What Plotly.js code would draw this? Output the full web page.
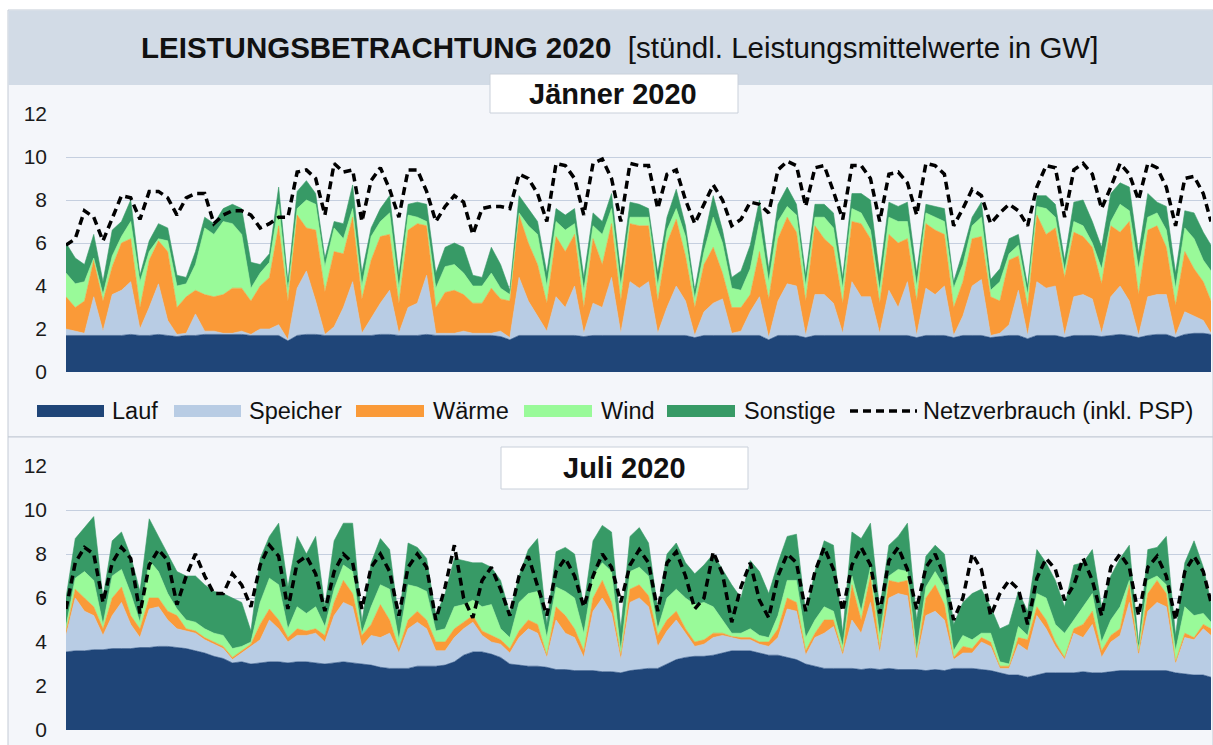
<!DOCTYPE html>
<html>
<head>
<meta charset="utf-8">
<script src="https://cdn.plot.ly/plotly-3.0.1.min.js"></script>
<style>html,body{margin:0;padding:0;background:#fff;}#chart{width:1213px;height:745px;}</style>
</head>
<body>
<div id="chart"></div>
<script>
// ---- Data: 6-hourly samples (00, 06, 12, 18 h of each day) + last hour, values in GW ----
// Jänner 2020
const janLauf = [
1.7,1.7,1.7,1.7, 1.7,1.7,1.7,1.75, 1.7,1.7,1.75,1.7, 1.65,1.7,1.7,1.75, 1.75,1.75,1.75,1.75, 1.7,1.7,1.7,1.7, 1.45,1.7,1.75,1.75, 1.7,1.7,1.7,1.7,
1.7,1.7,1.75,1.75, 1.7,1.7,1.7,1.75, 1.7,1.7,1.7,1.7, 1.7,1.7,1.7,1.65, 1.5,1.7,1.7,1.7, 1.7,1.7,1.7,1.7, 1.65,1.7,1.7,1.7, 1.7,1.7,1.7,1.7,
1.7,1.7,1.7,1.7, 1.6,1.7,1.7,1.7, 1.7,1.7,1.7,1.7, 1.5,1.7,1.7,1.7, 1.6,1.7,1.7,1.7, 1.7,1.7,1.7,1.7, 1.7,1.7,1.7,1.7, 1.6,1.7,1.7,1.7,
1.6,1.7,1.7,1.7, 1.6,1.65,1.7,1.7, 1.55,1.7,1.7,1.7, 1.6,1.7,1.7,1.7, 1.65,1.7,1.75,1.7, 1.6,1.7,1.75,1.75, 1.6,1.75,1.8,1.8, 1.75];
const janSpeicher = [
0.3,0.2,0.1,1.8, 0.2,1.9,2.1,2.45, 0.3,1.3,2.35,0.7, 0.1,0.1,1.0,0.15, 0.15,0.05,0.05,0.15, 0.05,0.3,0.3,0.5, 0.05,2.2,2.95,1.55, 0.05,0.4,1.3,2.5,
0.1,0.8,1.45,2.05, 0.1,1.3,1.5,2.75, 0.1,0.1,0.1,0.2, 0.1,0.1,0.1,0.25, 0.1,2.7,1.6,0.9, 0.2,1.8,1.3,2.3, 0.15,1.5,1.3,2.7, 0.1,2.5,2.2,2.5,
0.1,1.3,2.3,1.6, 0.1,1.1,1.5,1.7, 0.1,0.2,1.1,1.8, 0.1,1.6,2.4,2.3, 0.1,1.9,1.9,1.5, 0.1,2.5,1.8,1.8, 0.1,2.1,1.3,2.5, 0.1,2.2,1.9,2.3,
0.1,0.9,2.3,2.6, 0.1,0.15,0.5,2.1, 0.15,2.5,2.2,2.3, 0.1,1.8,1.9,1.7, 0.15,1.8,2.25,1.6, 0.1,1.8,1.85,1.85, 0.1,1.05,0.8,0.6, 0.05];
const janWaerme = [
1.5,1.1,1.5,1.7, 1.4,1.3,2.2,2.0, 1.0,2.2,2.0,3.2, 1.25,1.7,1.1,1.7, 1.6,1.8,2.1,2.0, 1.55,2.0,2.4,4.6, 1.8,3.4,2.0,3.3, 2.0,3.5,2.5,3.0,
1.6,2.7,3.1,2.6, 1.4,3.6,3.7,2.3, 1.2,1.9,2.0,1.7, 1.4,1.4,2.1,1.5, 1.7,2.9,2.7,2.4, 1.3,2.8,2.6,2.4, 1.2,3.0,2.0,2.5, 1.5,2.7,2.9,2.6,
1.5,3.0,3.1,2.1, 1.3,2.2,2.6,1.2, 1.2,1.1,0.8,2.1, 1.8,2.9,3.1,2.5, 1.6,3.2,2.6,2.6, 1.4,2.8,3.4,2.7, 1.4,2.6,3.0,2.0, 1.6,3.0,3.0,2.4,
1.3,1.6,2.2,2.0, 1.8,1.5,3.0,1.6, 1.3,3.1,2.5,2.7, 2.7,3.0,2.7,2.4, 2.3,3.3,2.5,3.7, 1.9,3.1,3.2,2.2, 1.4,2.8,2.2,1.8, 1.5];
const janWind = [
1.1,1.1,0.9,0.1, 0.3,0.5,0.3,0.8, 1.2,0.4,0.1,0.5, 1.0,0.6,1.2,3.1, 2.9,3.4,3.0,2.5, 0.6,0.6,0.7,1.0, 0.5,0.3,1.3,1.2, 1.15,1.1,0.7,0.4,
0.6,1.1,0.7,1.0, 0.7,0.7,0.3,0.2, 0.9,1.2,1.2,1.0, 0.8,0.8,0.7,0.5, 0.3,0.1,0.8,1.4, 0.8,0.7,1.0,0.5, 0.8,0.6,1.4,0.7, 0.7,0.3,0.4,0.4,
0.7,0.6,0.5,0.9, 0.4,0.6,1.4,1.4, 0.9,0.8,1.2,1.4, 0.8,0.8,0.5,0.8, 0.7,0.4,1.0,0.9, 0.7,0.6,0.5,0.4, 0.6,0.8,1.0,0.8, 0.7,0.5,0.6,0.6,
0.9,0.8,0.6,0.9, 0.3,0.9,0.3,0.5, 0.6,0.4,1.2,0.5, 0.3,0.5,0.5,0.2, 0.7,0.2,1.3,0.5, 1.2,0.6,0.6,0.8, 0.8,1.1,1.4,1.0, 1.4];
const janSonstige = [
1.4,1.2,0.8,1.1, 0.6,1.2,0.7,1.0, 0.3,0.5,0.7,0.6, 0.5,0.3,0.6,0.5, 0.5,0.6,0.9,1.2, 1.2,0.4,0.4,0.8, 0.4,0.8,0.9,0.5, 0.4,0.3,0.7,1.1,
0.6,0.4,0.6,0.8, 0.6,0.5,0.7,0.8, 0.7,0.9,1.0,1.2, 0.5,0.4,1.2,1.1, 0.2,0.8,0.8,0.6, 0.6,0.6,0.7,0.7, 0.6,0.6,0.6,0.7, 0.6,0.7,0.6,0.4,
0.6,0.6,0.9,0.5, 0.4,0.6,1.0,0.6, 0.5,0.9,1.1,1.0, 0.6,0.8,0.9,0.5, 0.5,0.6,0.6,0.7, 0.5,0.7,0.9,1.4, 0.7,0.7,0.7,0.9, 0.6,0.4,0.5,0.6,
0.3,0.6,0.4,0.7, 0.5,0.6,0.7,0.5, 0.4,0.5,0.6,0.6, 0.5,0.9,1.2,1.0, 1.0,1.3,1.0,1.1, 0.7,1.1,0.5,1.1, 0.7,0.8,1.2,1.3, 1.2];
const janNetz = [
5.9,6.2,7.5,7.2, 6.1,7.2,8.2,8.1, 7.1,8.4,8.4,8.1, 7.3,8.1,8.3,8.3, 6.9,7.3,7.5,7.5, 7.3,6.7,6.9,7.2, 7.2,9.3,9.4,9.0, 7.3,9.7,9.3,9.4,
7.0,8.9,9.5,8.5, 7.2,9.4,9.4,8.4, 7.0,7.7,8.2,7.9, 6.4,7.6,7.7,7.7, 7.6,9.2,9.0,8.3, 7.0,9.7,9.6,9.0, 7.3,9.7,9.9,9.0, 7.0,9.7,9.6,9.6,
7.6,9.2,9.4,8.0, 6.9,7.8,8.7,8.0, 6.8,7.1,7.9,7.8, 7.4,9.4,9.8,9.6, 7.7,9.5,9.6,8.4, 7.1,9.6,9.6,9.0, 7.0,9.2,9.3,8.8, 7.3,9.7,9.6,9.2,
6.8,7.6,8.5,8.2, 6.9,7.4,7.8,7.5, 6.8,8.6,9.6,9.5, 7.2,9.4,9.7,9.2, 7.6,8.6,9.7,9.2, 8.0,9.7,9.5,8.6, 6.8,9.0,9.1,8.3, 7.0];

// Juli 2020
const julLauf = [
3.55,3.6,3.6,3.65, 3.65,3.7,3.7,3.7, 3.75,3.75,3.8,3.8, 3.75,3.7,3.6,3.5, 3.35,3.25,3.05,3.1, 3.0,3.05,3.1,3.1, 3.05,3.1,3.1,3.05, 3.0,3.05,3.1,3.05,
3.0,2.95,2.85,2.8, 2.8,2.8,2.9,2.9, 2.9,2.95,3.1,3.4, 3.55,3.55,3.45,3.3, 3.0,2.95,2.9,2.9, 2.85,2.75,2.75,2.7, 2.7,2.7,2.65,2.65, 2.6,2.7,2.75,2.8,
2.8,3.0,3.2,3.3, 3.35,3.35,3.4,3.5, 3.6,3.6,3.6,3.5, 3.4,3.4,3.3,3.2, 3.0,2.9,2.8,2.8, 2.8,2.8,2.75,2.8, 2.75,2.8,2.75,2.75, 2.75,2.7,2.75,2.7,
2.8,2.8,2.8,2.75, 2.7,2.6,2.5,2.5, 2.4,2.5,2.6,2.6, 2.6,2.6,2.65,2.6, 2.6,2.65,2.7,2.7, 2.7,2.7,2.7,2.7, 2.6,2.55,2.5,2.5, 2.4];
const julSpeicher = [
0.75,2.4,1.8,1.55, 0.65,1.5,2.1,1.1, 0.45,1.75,1.8,1.2, 0.85,0.8,0.8,0.6, 0.55,0.45,0.15,0.4, 0.8,1.05,1.9,1.5, 0.95,1.2,1.2,1.35, 1.0,2.15,2.7,2.55,
0.8,1.35,1.35,1.6, 0.7,1.8,2.0,1.7, 0.7,0.65,1.1,1.2, 1.35,0.75,0.55,0.6, 0.5,1.25,1.7,1.5, 0.45,2.25,1.65,1.5, 0.6,2.7,3.35,2.65, 0.6,3.1,3.25,2.8,
1.0,1.5,1.8,1.1, 0.45,0.55,0.8,0.8, 0.6,0.5,0.5,0.4, 0.4,0.8,2.2,2.2, 0.4,1.3,1.6,1.9, 0.6,2.2,1.65,3.0, 0.75,3.2,3.45,3.35, 0.45,2.5,2.65,2.3,
0.4,0.7,0.7,1.25, 1.1,0.2,0.3,1.4, 1.2,2.7,2.0,1.2, 0.6,1.8,1.55,2.2, 0.7,1.35,1.6,3.1, 0.7,2.7,3.1,2.9, 0.4,1.65,1.6,2.1, 1.9];
const julWaerme = [
0.2,0.4,0.6,0.4, 0.3,0.8,0.7,0.4, 0.4,0.5,0.4,0.4, 0.6,0.1,0.1,0.1, 0.1,0.1,0.1,0.1, 0.1,0.7,0.5,0.4, 0.2,0.3,0.2,0.2, 0.3,0.6,1.0,0.6,
0.5,0.5,1.5,0.6, 0.2,0.4,0.5,0.4, 0.4,0.4,0.4,0.3, 0.3,0.2,0.3,0.2, 0.2,0.3,0.4,0.4, 0.1,0.6,0.8,0.4, 0.3,0.6,0.8,0.5, 0.2,0.6,0.6,0.5,
0.5,0.5,0.4,0.2, 0.2,0.2,0.2,0.1, 0.05,0.1,0.1,0.1, 0.2,0.4,0.5,0.4, 0.2,0.2,0.6,0.3, 0.1,1.6,0.6,1.2, 0.2,0.8,0.5,0.7, 0.1,0.8,1.2,0.7,
0.1,0.3,0.2,0.2, 0.2,0.1,0.1,0.3, 0.5,0.4,0.4,0.2, 0.1,0.2,0.6,0.6, 0.3,0.3,0.3,0.8, 0.1,0.8,1.0,0.6, 0.1,0.2,0.1,0.2, 0.3];
const julWind = [
0.2,0.5,1.2,1.2, 0.2,1.0,0.8,1.0, 0.3,1.7,1.2,0.8, 0.3,0.4,0.4,0.4, 0.4,0.5,0.4,0.2, 0.1,1.0,1.4,1.6, 0.4,1.0,0.8,1.0, 0.4,0.6,0.7,1.0,
0.1,0.8,0.9,1.4, 0.4,1.6,1.1,1.3, 0.5,0.6,1.0,0.8, 0.7,1.1,1.4,0.5, 0.5,1.3,1.2,1.5, 0.8,0.9,1.1,1.4, 0.8,1.0,0.8,1.4, 0.2,0.8,0.8,0.9,
0.3,1.0,1.0,1.4, 1.7,1.7,1.2,0.6, 0.15,0.2,0.4,0.3, 0.2,0.6,0.8,1.0, 0.6,0.6,0.6,0.4, 0.3,0.4,0.4,0.4, 0.6,0.2,0.6,0.4, 0.3,0.5,0.6,0.8,
0.3,0.5,0.4,0.2, 0.4,0.2,0.1,0.5, 0.2,0.6,1.0,0.8, 1.1,0.4,0.8,0.8, 0.4,0.7,1.0,0.2, 0.2,0.6,0.2,0.4, 0.5,1.2,1.0,0.5, 0.3];
const julSonstige = [
1.3,1.8,2.0,2.9, 1.2,1.6,1.7,1.7, 1.4,1.9,1.6,1.8, 1.7,2.0,2.1,2.0, 1.9,1.9,2.3,2.0, 0.5,2.0,1.9,2.8, 1.9,3.2,2.7,3.2, 0.9,2.2,1.9,2.2,
0.5,2.0,2.1,1.8, 0.9,1.9,1.8,1.5, 0.7,1.6,2.2,2.0, 1.7,2.0,1.7,2.2, 1.1,1.2,2.0,2.4, 0.6,1.6,2.0,2.0, 1.2,1.6,1.7,1.8, 1.0,1.6,1.8,1.5,
0.9,2.0,2.1,1.6, 1.4,1.7,2.4,2.3, 2.2,1.6,3.1,2.9, 2.0,2.4,2.0,2.1, 1.1,2.2,3.0,3.0, 0.6,2.0,3.3,2.0, 1.2,1.4,1.5,2.2, 1.4,1.4,1.2,1.5,
1.2,1.5,2.1,2.0, 1.2,1.5,1.8,1.6, 1.1,2.0,1.6,2.0, 1.2,2.5,2.0,2.0, 1.6,2.0,2.2,1.6, 0.2,1.4,1.3,2.2, 0.7,2.0,3.4,2.1, 0.9];
const julNetz = [
5.5,7.6,8.3,8.0, 5.8,7.6,8.3,7.8, 5.3,7.5,8.2,7.7, 5.7,7.0,8.0,7.0, 6.2,6.2,7.1,6.6, 5.6,7.5,8.4,7.9, 5.5,7.6,7.9,7.1, 5.4,7.2,8.0,7.6,
5.5,7.4,8.0,7.2, 5.2,7.4,8.0,7.4, 5.0,6.5,8.4,6.0, 5.1,6.8,7.4,6.4, 5.2,7.0,7.9,6.6, 5.2,7.2,7.8,7.0, 5.6,7.0,8.0,7.4, 5.8,7.5,8.2,7.6,
5.4,7.6,8.1,7.0, 5.5,6.0,8.1,7.1, 4.9,6.5,7.6,5.9, 5.1,7.0,8.0,7.6, 5.4,7.2,8.3,7.3, 5.4,7.5,8.3,7.5, 5.3,7.7,8.3,7.3, 5.5,7.4,8.0,7.0,
5.0,6.0,8.0,7.3, 5.2,6.2,6.8,6.4, 4.8,6.9,7.8,7.3, 5.9,6.6,7.8,6.8, 5.2,7.4,8.0,7.4, 5.2,7.4,7.9,7.0, 5.0,7.2,7.9,7.2, 5.8];

const seriesNames = ['Lauf', 'Speicher', 'Wärme', 'Wind', 'Sonstige'];
const lineName = 'Netzverbrauch (inkl. PSP)';
const tickValues = [0, 2, 4, 6, 8, 10, 12];

// ---- Styles ----
const COLORS = ['#1f4578', '#b8cce4', '#fa9a38', '#99fa99', '#379a66'];
const FONT = 'Liberation Sans, Arial, sans-serif';
const W = 1213, H = 745;
const px = x => x / W;
const py = y => 1 - y / H;

// hour index of each sample (0,6,...,738, then last hour 743)
const hoursOf = arr => arr.map((_, i) => Math.min(i * 6, 743));

function panel(arrs, netz, xa, ya, grp) {
  const hrs = hoursOf(arrs[0]);
  const tr = arrs.map((a, k) => ({
    type: 'scatter', mode: 'lines', x: hrs, y: a, name: seriesNames[k],
    stackgroup: grp, xaxis: xa, yaxis: ya,
    line: {width: 0.6, color: COLORS[k]}, fillcolor: COLORS[k], hoverinfo: 'skip'
  }));
  tr.push({
    type: 'scatter', mode: 'lines', x: hrs, y: netz, name: lineName, xaxis: xa, yaxis: ya,
    line: {color: '#000', width: 3.5, dash: '8px,5px'}, hoverinfo: 'skip'
  });
  return tr;
}

const traces = [
  ...panel([janLauf, janSpeicher, janWaerme, janWind, janSonstige], janNetz, 'x', 'y', 'jan'),
  ...panel([julLauf, julSpeicher, julWaerme, julWind, julSonstige], julNetz, 'x2', 'y2', 'jul')
];

const xBase = {domain: [px(66), px(1211)], range: [0, 743], showticklabels: false, showgrid: false,
  zeroline: false, showline: false, ticks: '', fixedrange: true};
const yBase = {range: [0, 12], tickvals: tickValues, showgrid: true, gridcolor: '#c5cfdf', gridwidth: 1,
  zeroline: false, showline: false, ticks: '', ticklabelstandoff: 18,
  tickfont: {family: FONT, size: 21, color: '#1a1a1a'}, fixedrange: true};

const rect = (x0, y0, x1, y1, fill, line, layer) => ({
  type: 'rect', xref: 'paper', yref: 'paper', x0: px(x0), x1: px(x1), y0: py(y1), y1: py(y0),
  fillcolor: fill, line: line || {width: 0}, layer: layer || 'below'
});

const shapes = [
  rect(8, 10, 1213, 437, '#f4f6fa', {color: '#c3cad5', width: 1}),
  rect(8.5, 10.5, 1213, 85, '#d2dbe6'),
  rect(8, 437, 1213, 746, '#f4f6fa', {color: '#c3cad5', width: 1}),
  rect(490, 74, 738, 113, '#ffffff', {color: '#c9d0da', width: 1}, 'above'),
  rect(501, 447, 748, 489, '#ffffff', {color: '#c9d0da', width: 1}, 'above')
];

const annotations = [
  {text: '<b>LEISTUNGSBETRACHTUNG 2020</b>\u00a0\u00a0[stündl. Leistungsmittelwerte in GW]',
   x: px(619), y: py(48), xref: 'paper', yref: 'paper', xanchor: 'center', yanchor: 'middle',
   showarrow: false, font: {family: FONT, size: 29.5, color: '#111'}},
  {text: '<b>Jänner 2020</b>', x: px(613), y: py(94), xref: 'paper', yref: 'paper',
   xanchor: 'center', yanchor: 'middle', showarrow: false, font: {family: FONT, size: 29, color: '#111'}},
  {text: '<b>Juli 2020</b>', x: px(624), y: py(468), xref: 'paper', yref: 'paper',
   xanchor: 'center', yanchor: 'middle', showarrow: false, font: {family: FONT, size: 29, color: '#111'}}
];

// manual legend row
const legendSwatch = [[37, 104], [174, 241], [356, 424], [524, 592], [667, 735]];
const legendText = [110, 247, 431, 599, 742];
const LEG_Y = 411;
seriesNames.forEach((n, k) => {
  shapes.push(rect(legendSwatch[k][0], LEG_Y - 6, legendSwatch[k][1], LEG_Y + 6, COLORS[k], {width: 0}, 'above'));
  annotations.push({text: n, x: px(legendText[k]), y: py(LEG_Y), xref: 'paper', yref: 'paper',
    xanchor: 'left', yanchor: 'middle', showarrow: false, font: {family: FONT, size: 23.5, color: '#111'}});
});
shapes.push({type: 'line', xref: 'paper', yref: 'paper', x0: px(850), x1: px(917), y0: py(LEG_Y), y1: py(LEG_Y),
  line: {color: '#000', width: 3.5, dash: '8px,5px'}, layer: 'above'});
annotations.push({text: lineName, x: px(921), y: py(LEG_Y), xref: 'paper', yref: 'paper',
  xanchor: 'left', yanchor: 'middle', showarrow: false, font: {family: FONT, size: 23.5, color: '#111'}});

const layout = {
  width: W, height: H, margin: {l: 0, r: 0, t: 0, b: 0},
  paper_bgcolor: '#ffffff', plot_bgcolor: 'rgba(0,0,0,0)', showlegend: false,
  font: {family: FONT},
  xaxis: Object.assign({}, xBase, {anchor: 'y'}),
  yaxis: Object.assign({}, yBase, {domain: [py(372), py(114)], anchor: 'x'}),
  xaxis2: Object.assign({}, xBase, {anchor: 'y2'}),
  yaxis2: Object.assign({}, yBase, {domain: [py(730), py(466)], anchor: 'x2'}),
  shapes: shapes, annotations: annotations
};

Plotly.newPlot('chart', traces, layout, {displayModeBar: false, staticPlot: true});
</script>
</body>
</html>
